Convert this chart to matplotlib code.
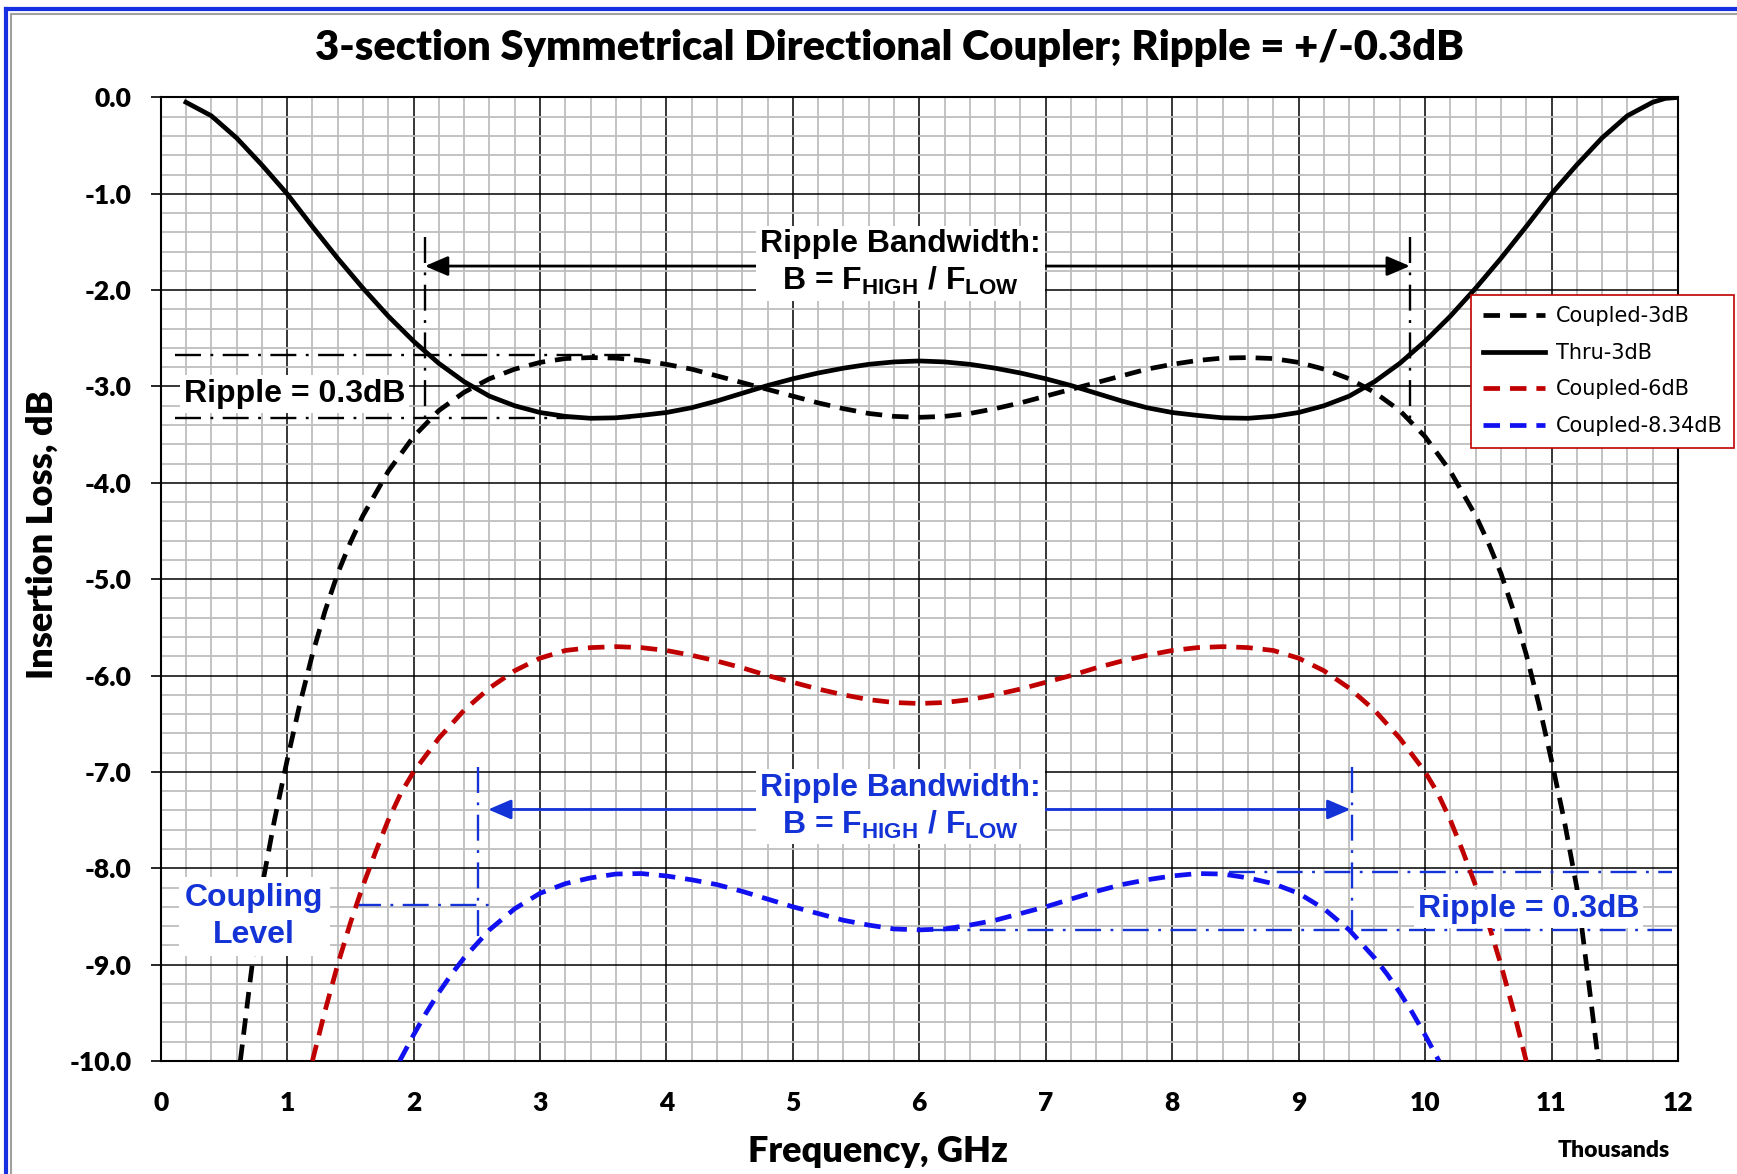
import matplotlib

matplotlib.use("Agg")
import matplotlib.pyplot as plt
import numpy as np
from matplotlib.lines import Line2D

plt.rcParams["font.family"] = ["Lato", "DejaVu Sans"]
plt.rcParams["mathtext.fontset"] = "custom"
plt.rcParams["mathtext.bf"] = "Liberation Sans:bold"
plt.rcParams["mathtext.rm"] = "Liberation Sans"

# %% Coupler response curves (frequency in GHz, insertion loss in dB)

thru_f = [0.2, 0.4, 0.6, 0.8, 1.0, 1.2, 1.4, 1.6, 1.8, 2.0, 2.2, 2.4, 2.6, 2.8,
          3.0, 3.2, 3.4, 3.6, 3.8, 4.0, 4.2, 4.4, 4.6, 4.8, 5.0, 5.2, 5.4, 5.6,
          5.8, 6.0, 6.2, 6.4, 6.6, 6.8, 7.0, 7.2, 7.4, 7.6, 7.8, 8.0, 8.2, 8.4,
          8.6, 8.8, 9.0, 9.2, 9.4, 9.6, 9.8, 10.0, 10.2, 10.4, 10.6, 10.8, 11.0,
          11.2, 11.4, 11.6, 11.8, 11.9, 12.0]
thru_db = [-0.05, -0.19, -0.42, -0.70, -1.00, -1.34, -1.67, -1.98, -2.27, -2.53,
           -2.76, -2.95, -3.10, -3.20, -3.27, -3.31, -3.33, -3.325, -3.30, -3.27,
           -3.22, -3.15, -3.07, -2.99, -2.92, -2.86, -2.81, -2.77, -2.745, -2.735,
           -2.745, -2.77, -2.81, -2.86, -2.92, -2.99, -3.07, -3.15, -3.22, -3.27,
           -3.30, -3.325, -3.33, -3.31, -3.27, -3.20, -3.10, -2.95, -2.76, -2.53,
           -2.27, -1.98, -1.67, -1.34, -1.00, -0.70, -0.42, -0.19, -0.05, -0.01,
           0.00]

c3_f = [0.63, 0.7, 0.8, 0.9, 1.0, 1.1, 1.2, 1.3, 1.4, 1.5, 1.6, 1.8, 2.0, 2.2,
        2.4, 2.6, 2.8, 3.0, 3.2, 3.4, 3.6, 3.8, 4.0, 4.2, 4.4, 4.6, 4.8, 5.0,
        5.2, 5.4, 5.6, 5.8, 6.0, 6.2, 6.4, 6.6, 6.8, 7.0, 7.2, 7.4, 7.6, 7.8,
        8.0, 8.2, 8.4, 8.6, 8.8, 9.0, 9.2, 9.4, 9.6, 9.8, 10.0, 10.2, 10.4,
        10.5, 10.6, 10.7, 10.8, 10.9, 11.0, 11.1, 11.2, 11.3, 11.37]
c3_db = [-10.0, -9.25, -8.2, -7.5, -6.88, -6.3, -5.78, -5.33, -4.94, -4.62, -4.34,
         -3.88, -3.52, -3.25, -3.06, -2.92, -2.82, -2.75, -2.71, -2.70, -2.705,
         -2.73, -2.77, -2.82, -2.89, -2.96, -3.03, -3.10, -3.17, -3.23, -3.28,
         -3.31, -3.32, -3.31, -3.28, -3.23, -3.17, -3.10, -3.03, -2.96, -2.89,
         -2.82, -2.77, -2.73, -2.705, -2.70, -2.71, -2.75, -2.82, -2.92, -3.06,
         -3.25, -3.52, -3.88, -4.34, -4.62, -4.94, -5.33, -5.78, -6.3, -6.88,
         -7.5, -8.2, -9.25, -10.0]

c6_f = [1.2, 1.3, 1.4, 1.5, 1.6, 1.7, 1.8, 1.9, 2.0, 2.2, 2.4, 2.6, 2.8, 3.0,
        3.2, 3.4, 3.6, 3.8, 4.0, 4.2, 4.4, 4.6, 4.8, 5.0, 5.2, 5.4, 5.6, 5.8,
        6.0, 6.2, 6.4, 6.6, 6.8, 7.0, 7.2, 7.4, 7.6, 7.8, 8.0, 8.2, 8.4, 8.6,
        8.8, 9.0, 9.2, 9.4, 9.6, 9.8, 10.0, 10.1, 10.2, 10.3, 10.4, 10.5, 10.6,
        10.7, 10.8]
c6_db = [-10.0, -9.48, -9.0, -8.57, -8.18, -7.83, -7.5, -7.22, -7.0, -6.65, -6.36,
         -6.13, -5.95, -5.82, -5.74, -5.71, -5.70, -5.71, -5.74, -5.79, -5.85,
         -5.92, -6.00, -6.07, -6.14, -6.20, -6.25, -6.28, -6.29, -6.28, -6.25,
         -6.20, -6.14, -6.07, -6.00, -5.92, -5.85, -5.79, -5.74, -5.71, -5.70,
         -5.71, -5.74, -5.82, -5.95, -6.13, -6.36, -6.65, -7.0, -7.22, -7.5,
         -7.83, -8.18, -8.57, -9.0, -9.48, -10.0]

c834_f = [1.89, 2.0, 2.1, 2.2, 2.3, 2.4, 2.6, 2.8, 3.0, 3.2, 3.4, 3.6, 3.8, 4.0,
          4.2, 4.4, 4.6, 4.8, 5.0, 5.2, 5.4, 5.6, 5.8, 6.0, 6.2, 6.4, 6.6, 6.8,
          7.0, 7.2, 7.4, 7.6, 7.8, 8.0, 8.2, 8.4, 8.6, 8.8, 9.0, 9.2, 9.4, 9.6,
          9.7, 9.8, 9.9, 10.0, 10.11]
c834_db = [-10.0, -9.73, -9.5, -9.29, -9.10, -8.93, -8.64, -8.42, -8.26, -8.16,
           -8.10, -8.06, -8.055, -8.08, -8.12, -8.17, -8.24, -8.32, -8.40, -8.47,
           -8.54, -8.59, -8.63, -8.64, -8.63, -8.59, -8.54, -8.47, -8.40, -8.32,
           -8.24, -8.17, -8.12, -8.08, -8.055, -8.06, -8.10, -8.16, -8.26, -8.42,
           -8.64, -8.93, -9.10, -9.29, -9.5, -9.73, -10.0]

# ripple / bandwidth markers
ripple_hi_3, ripple_lo_3 = -2.67, -3.33
band_3 = [2.09, 9.88]
ripple_hi_834, ripple_lo_834 = -8.04, -8.64
band_834 = [2.51, 9.42]
coupling_level = -8.38

x_ticks = np.arange(0, 13, 1)
y_ticks = np.arange(-10, 1, 1)

# %% Plot

BLUE_TXT = "#1433D6"
RED = "#C00000"
BLUE = "#1010F0"
DASH = (0, (3.5, 2.1))
DASHDOT = (0, (11, 4, 1.2, 4))
HEAVY = "heavy"

fig = plt.figure(figsize=(17.37, 11.74), dpi=100)
ax = fig.add_axes([0.0925, 0.0963, 0.8735, 0.8207])

ax.plot(c3_f, c3_db, color="black", lw=3.4, ls=DASH, label="Coupled-3dB", zorder=3)
ax.plot(thru_f, thru_db, color="black", lw=3.4, label="Thru-3dB", zorder=3)
ax.plot(c6_f, c6_db, color=RED, lw=3.4, ls=DASH, label="Coupled-6dB", zorder=3)
ax.plot(c834_f, c834_db, color=BLUE, lw=3.4, ls=DASH, label="Coupled-8.34dB", zorder=3)

ax.set_xlim(0, 12)
ax.set_ylim(-10, 0)
ax.set_xticks(x_ticks)
ax.set_yticks(y_ticks)
ax.set_xticklabels([f"{v:d}" for v in x_ticks])
ax.set_yticklabels([f"{v:.1f}" for v in y_ticks])
ax.set_xticks(np.arange(0, 12.01, 0.2), minor=True)
ax.set_yticks(np.arange(-10, 0.01, 0.2), minor=True)
ax.grid(which="major", color="black", lw=1.1, zorder=1)
ax.grid(which="minor", color="#BEBEBE", lw=1.3, zorder=0)
ax.set_axisbelow(True)
ax.tick_params(axis="x", which="both", length=0, pad=22, labelsize=19)
ax.tick_params(axis="y", which="major", length=7, width=1.2, pad=14, labelsize=19)
ax.tick_params(axis="y", which="minor", length=0)
for lbl in ax.get_xticklabels() + ax.get_yticklabels():
    lbl.set_fontweight(HEAVY)
for sp in ax.spines.values():
    sp.set_linewidth(1.5)

ax.set_xlabel("Frequency, GHz", fontsize=26, fontweight=HEAVY, va="center")
ax.xaxis.set_label_coords(0.473, -0.094)
ax.set_ylabel("Insertion Loss, dB", fontsize=26, fontweight=HEAVY, va="center")
ax.yaxis.set_label_coords(-0.078, 0.546)
fig.text(0.512, 0.959, "3-section Symmetrical Directional Coupler; Ripple = +/-0.3dB",
         ha="center", va="center", fontsize=30, fontweight=HEAVY)
ax.text(11.49, -10.93, "Thousands", ha="center", va="center", fontsize=16.5,
        fontweight=HEAVY, clip_on=False)

# 3dB ripple markers
ax.plot([0.11, 3.74], [ripple_hi_3] * 2, color="black", lw=1.7, ls=DASHDOT, zorder=2)
ax.plot([0.11, 3.74], [ripple_lo_3] * 2, color="black", lw=1.7, ls=DASHDOT, zorder=2)
for xb in band_3:
    ax.plot([xb, xb], [-1.45, -3.38], color="black", lw=1.7, ls=DASHDOT, zorder=2)
ax.annotate("", xy=(band_3[0], -1.75), xytext=(band_3[1], -1.75),
            arrowprops=dict(arrowstyle="<|-|>,head_length=0.7,head_width=0.3",
                            color="black", lw=2, shrinkA=0, shrinkB=0,
                            mutation_scale=20), zorder=4)
bbox = dict(boxstyle="square,pad=0.12", facecolor="white", edgecolor="none")
ax.text(5.85, -1.72, "Ripple Bandwidth:\n" r"B = F$_{\mathbf{HIGH}}$ / F$_{\mathbf{LOW}}$",
        ha="center", va="center", fontsize=23, fontweight="bold",
        family="Liberation Sans", linespacing=1.22, bbox=bbox, zorder=5)
ax.text(1.06, -3.08, "Ripple = 0.3dB", ha="center", va="center", fontsize=23,
        fontweight="bold", family="Liberation Sans", bbox=bbox, zorder=5)

# 8.34dB ripple markers
ax.plot([8.45, 11.95], [ripple_hi_834] * 2, color=BLUE_TXT, lw=1.7, ls=DASHDOT, zorder=2)
ax.plot([6.1, 11.95], [ripple_lo_834] * 2, color=BLUE_TXT, lw=1.7, ls=DASHDOT, zorder=2)
ax.plot([band_834[0], band_834[0]], [-6.95, -8.72], color=BLUE_TXT, lw=1.7,
        ls=DASHDOT, zorder=2)
ax.plot([band_834[1], band_834[1]], [-6.95, -8.64], color=BLUE_TXT, lw=1.7,
        ls=DASHDOT, zorder=2)
ax.plot([1.54, 2.6], [coupling_level] * 2, color=BLUE_TXT, lw=1.7, ls=DASHDOT, zorder=2)
ax.annotate("", xy=(2.59, -7.39), xytext=(9.41, -7.39),
            arrowprops=dict(arrowstyle="<|-|>,head_length=0.7,head_width=0.3",
                            color=BLUE_TXT, lw=2, shrinkA=0, shrinkB=0,
                            mutation_scale=20), zorder=4)
ax.text(5.85, -7.36, "Ripple Bandwidth:\n" r"B = F$_{\mathbf{HIGH}}$ / F$_{\mathbf{LOW}}$",
        ha="center", va="center", fontsize=23, fontweight="bold", color=BLUE_TXT,
        family="Liberation Sans", linespacing=1.22, bbox=bbox, zorder=5)
ax.text(10.82, -8.42, "Ripple = 0.3dB", ha="center", va="center", fontsize=23,
        fontweight="bold", color=BLUE_TXT, family="Liberation Sans", bbox=bbox,
        zorder=5)
ax.text(0.74, -8.5, "Coupling\nLevel", ha="center", va="center", fontsize=23,
        fontweight="bold", color=BLUE_TXT, family="Liberation Sans",
        linespacing=1.28, bbox=dict(boxstyle="square,pad=0.2", facecolor="white",
                                    edgecolor="none"), zorder=5)

leg = fig.legend(loc="upper left", bbox_to_anchor=(0.847, 0.749),
                 prop={"family": "DejaVu Sans", "size": 15}, frameon=True,
                 fancybox=False, edgecolor=RED, framealpha=1, handlelength=3.0,
                 handletextpad=0.5, labelspacing=0.8, borderpad=0.55,
                 borderaxespad=0)
leg.get_frame().set_linewidth(1.2)

# outer frame
fig.add_artist(Line2D([0.0035, 0.0035], [0, 0.992], color="#1530E0", lw=3))
fig.add_artist(Line2D([0.0065, 0.0065], [0, 0.9885], color="#A0A0A0", lw=1.5))
fig.add_artist(Line2D([0.0035, 1], [0.992, 0.992], color="#1530E0", lw=3))
fig.add_artist(Line2D([0.0065, 1], [0.9885, 0.9885], color="#A0A0A0", lw=1.5))

fig.savefig("out.png", dpi=100)
